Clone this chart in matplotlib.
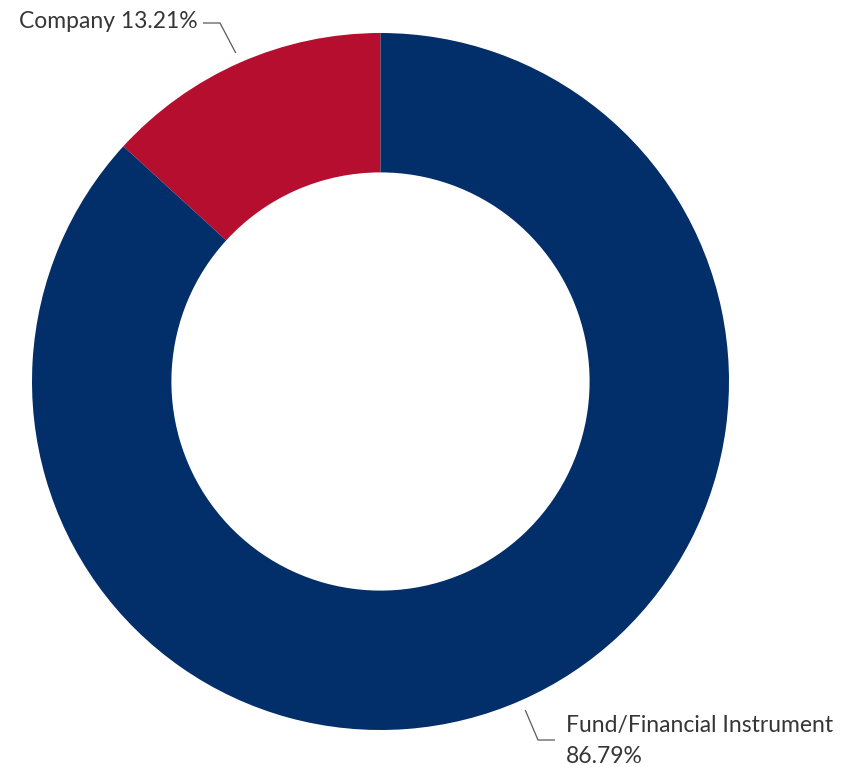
import numpy as np
import matplotlib
matplotlib.use("Agg")
import matplotlib.pyplot as plt

categories = ["Company", "Fund/Financial Instrument"]
shares = [13.21, 86.79]
labels = ["Company 13.21%", "Fund/Financial Instrument\n86.79%"]
colors = ["#b60e2f", "#022e69"]

W, H = 841, 767
cx, cy, R = 380.5, 381.5, 348.5  # ring centre and outer radius in pixels


def to_data(px, py):
    return ((px - cx) / R, (cy - py) / R)


fig = plt.figure(figsize=(W / 100, H / 100), dpi=100)
ax = fig.add_axes([0, 0, 1, 1])
wedges, _ = ax.pie(shares, colors=colors, startangle=90, counterclock=True,
                   radius=1.0, wedgeprops=dict(width=0.4, linewidth=0))
x0, y1 = to_data(0, 0)
x1, y0 = to_data(W, H)
ax.set_xlim(x0, x1)
ax.set_ylim(y0, y1)
ax.set_aspect("equal")
ax.axis("off")

text_color = "#363636"
line_color = "#5a5a5a"
font = ["Lato", "DejaVu Sans"]

# label layout: (elbow, line end, text anchor, ha)
layout = [
    (to_data(220, 23), to_data(203, 23), to_data(198, 21), "right"),
    (to_data(538, 740), to_data(555, 740), to_data(566, 741), "left"),
]

for w, lab, (elbow, end, tpos, ha) in zip(wedges, labels, layout):
    mid = np.deg2rad((w.theta1 + w.theta2) / 2)
    start = (1.03 * np.cos(mid), 1.03 * np.sin(mid))
    ax.plot([start[0], elbow[0], end[0]], [start[1], elbow[1], end[1]],
            color=line_color, lw=0.9, solid_capstyle="butt")
    ax.text(tpos[0], tpos[1], lab, ha=ha, va="center", color=text_color,
            fontsize=16.5, family=font, linespacing=1.6)

fig.savefig("out.png", dpi=100, facecolor="white")
